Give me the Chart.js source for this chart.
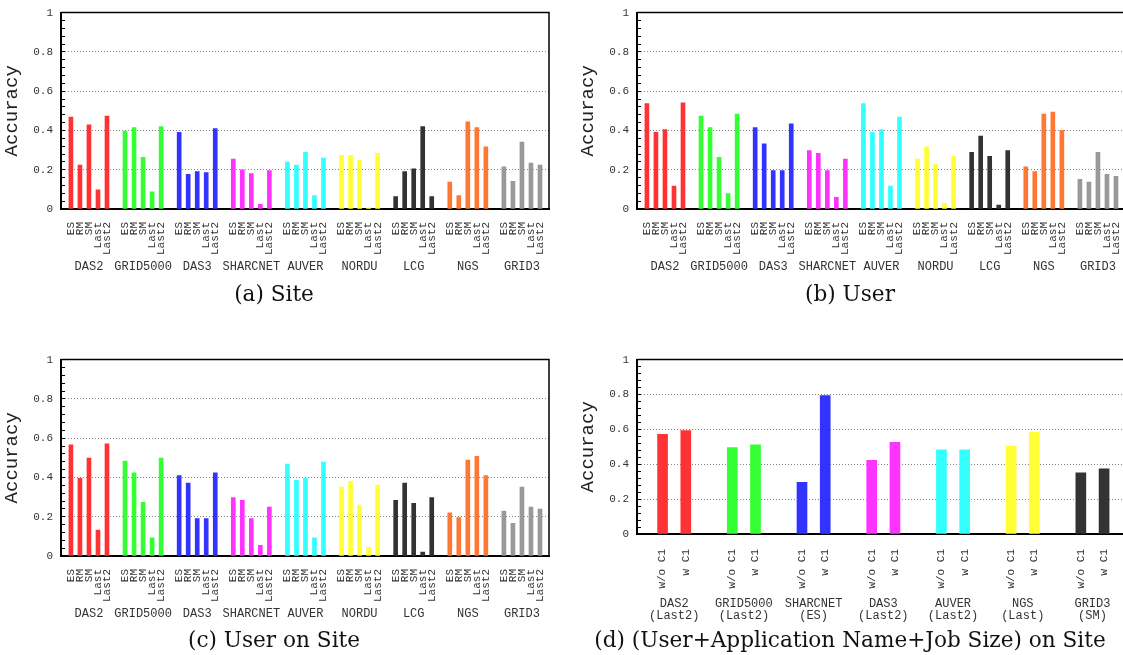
<!DOCTYPE html>
<html>
<head>
<meta charset="utf-8">
<script src="https://cdn.jsdelivr.net/npm/chart.js@4.4.1/dist/chart.umd.min.js"></script>
<style>
  body { margin: 0; background: #fff; width: 1123px; height: 655px; overflow: hidden; position: relative; }
  canvas { position: absolute; }
  .cap { position: absolute; font-family: "DejaVu Serif"; font-size: 21.6px; color: #111; white-space: nowrap; transform: translate(-50%, -50%); }
</style>
</head>
<body>
<canvas id="pa" width="560" height="290" style="left:0;top:-6px"></canvas>
<canvas id="pb" width="560" height="290" style="left:576px;top:-6px"></canvas>
<canvas id="pc" width="560" height="290" style="left:0;top:341px"></canvas>
<canvas id="pd" width="560" height="290" style="left:576px;top:341px"></canvas>
<div class="cap" style="left:274px;top:293px">(a) Site</div>
<div class="cap" style="left:850px;top:293px">(b) User</div>
<div class="cap" style="left:274px;top:639px">(c) User on Site</div>
<div class="cap" style="left:850px;top:639px">(d) (User+Application Name+Job Size) on Site</div>
<script>
// sites and predictors for panels a-c
const sites = ['DAS2', 'GRID5000', 'DAS3', 'SHARCNET', 'AUVER', 'NORDU', 'LCG', 'NGS', 'GRID3'];
const methods = ['ES', 'RM', 'SM', 'Last', 'Last2'];

// accuracy, one row per site, columns follow methods
const siteAcc = [
  [0.468, 0.224, 0.429, 0.098, 0.473],
  [0.397, 0.415, 0.263, 0.088, 0.420],
  [0.390, 0.176, 0.190, 0.185, 0.410],
  [0.254, 0.200, 0.180, 0.024, 0.195],
  [0.239, 0.224, 0.288, 0.068, 0.259],
  [0.273, 0.273, 0.249, 0.006, 0.283],
  [0.063, 0.190, 0.205, 0.420, 0.063],
  [0.137, 0.068, 0.444, 0.415, 0.317],
  [0.215, 0.141, 0.341, 0.234, 0.224]
];
const userAcc = [
  [0.537, 0.390, 0.405, 0.117, 0.541],
  [0.473, 0.415, 0.263, 0.078, 0.483],
  [0.415, 0.332, 0.195, 0.195, 0.434],
  [0.298, 0.283, 0.195, 0.059, 0.254],
  [0.537, 0.390, 0.405, 0.117, 0.468],
  [0.254, 0.317, 0.229, 0.029, 0.268],
  [0.288, 0.371, 0.268, 0.020, 0.298],
  [0.215, 0.190, 0.483, 0.493, 0.400],
  [0.151, 0.137, 0.288, 0.176, 0.166]
];
const userOnSiteAcc = [
  [0.566, 0.395, 0.498, 0.132, 0.571],
  [0.483, 0.424, 0.273, 0.093, 0.498],
  [0.410, 0.371, 0.190, 0.190, 0.424],
  [0.298, 0.283, 0.190, 0.054, 0.249],
  [0.468, 0.385, 0.395, 0.093, 0.478],
  [0.351, 0.380, 0.259, 0.044, 0.361],
  [0.283, 0.371, 0.268, 0.020, 0.298],
  [0.220, 0.195, 0.488, 0.507, 0.410],
  [0.229, 0.166, 0.351, 0.249, 0.239]
];

// panel d
const dSites = ['DAS2', 'GRID5000', 'SHARCNET', 'DAS3', 'AUVER', 'NGS', 'GRID3'];
const dBest = ['(Last2)', '(Last2)', '(ES)', '(Last2)', '(Last2)', '(Last)', '(SM)'];
const dVariants = ['w/o C1', 'w C1'];
const woC1 = [0.571, 0.496, 0.296, 0.422, 0.482, 0.504, 0.351];
const wC1 = [0.593, 0.511, 0.793, 0.525, 0.482, 0.585, 0.373];

const palette = ['#ff3333', '#33ff33', '#3333ff', '#ff33ff', '#33ffff', '#ffff33', '#333333', '#ff7733', '#999999'];

Chart.defaults.font.family = 'Liberation Mono';
Chart.defaults.font.size = 11;
Chart.defaults.color = '#333';

function panel(id, rows, groupNames, memberNames, subNames, o) {
  const slot = memberNames.length + 1;
  const pts = [], cols = [], tickPos = [], tickLab = [];
  rows.forEach((row, g) => {
    row.forEach((v, k) => {
      pts.push({ x: g * slot + k, y: v });
      cols.push(palette[g]);
      tickPos.push(g * slot + k);
      tickLab.push(memberNames[k]);
    });
  });

  const decor = {
    id: 'decor',
    afterDatasetsDraw(chart) {
      const { ctx, chartArea: a, scales: { x } } = chart;
      ctx.save();
      ctx.strokeStyle = '#000';
      ctx.lineWidth = 1.5;
      ctx.beginPath();
      ctx.moveTo(a.left, a.top);
      ctx.lineTo(a.right, a.top);
      ctx.lineTo(a.right, a.bottom);
      ctx.stroke();
      ctx.fillStyle = '#333';
      ctx.font = '12px "Liberation Mono"';
      ctx.textAlign = 'center';
      ctx.textBaseline = 'middle';
      groupNames.forEach((name, g) => {
        const cx = x.getPixelForValue(g * slot + (memberNames.length - 1) / 2);
        ctx.fillText(name, cx, o.groupY);
        if (subNames) ctx.fillText(subNames[g], cx, o.groupY + 12);
      });
      ctx.restore();
    }
  };

  new Chart(document.getElementById(id), {
    type: 'bar',
    data: {
      datasets: [{
        data: pts,
        backgroundColor: cols,
        barThickness: o.barW,
        borderWidth: 0
      }]
    },
    plugins: [decor],
    options: {
      responsive: false,
      animation: false,
      layout: { padding: { left: 0, top: 10, right: 11, bottom: 0 } },
      plugins: { legend: { display: false }, tooltip: { enabled: false } },
      scales: {
        x: {
          type: 'linear',
          offset: false,
          min: -1.1,
          max: o.xmax,
          grid: { display: false },
          border: { display: true, color: '#000', width: 2 },
          afterBuildTicks: s => { s.ticks = tickPos.map(v => ({ value: v })); },
          afterFit: s => { s.height = o.axisH; },
          ticks: {
            autoSkip: false,
            minRotation: 90,
            maxRotation: 90,
            padding: o.tickPad,
            callback: (v, i) => tickLab[i]
          }
        },
        y: {
          min: 0,
          max: 1,
          afterFit: s => { s.width = 61; },
          grid: {
            color: c => {
              const r = Math.round(c.tick.value * 100);
              return (r % 20 === 0 && r > 0 && r < 100) ? '#888' : 'rgba(0,0,0,0)';
            },
            tickColor: '#000',
            tickLength: -4,
            lineWidth: 1
          },
          border: { display: true, color: '#000', width: 2, dash: [1, 2] },
          ticks: {
            autoSkip: false,
            stepSize: 0.04,
            padding: 12,
            callback: v => {
              const r = Math.round(v * 100);
              return r % 20 === 0 ? String(r / 100) : '';
            }
          },
          title: {
            display: true,
            text: 'Accuracy',
            color: '#222',
            font: { family: 'Liberation Mono', size: 19 },
            padding: 1
          }
        }
      }
    }
  });
}

const abc = { barW: 4, xmax: 53, axisH: 75, tickPad: 5, groupY: 273 };
panel('pa', siteAcc, sites, methods, null, abc);
panel('pb', userAcc, sites, methods, null, abc);
panel('pc', userOnSiteAcc, sites, methods, null, abc);
panel('pd', woC1.map((v, i) => [v, wC1[i]]), dSites, dVariants, dBest,
  { barW: 10, xmax: 19.9, axisH: 97, tickPad: 7, groupY: 263 });
</script>
</body>
</html>
